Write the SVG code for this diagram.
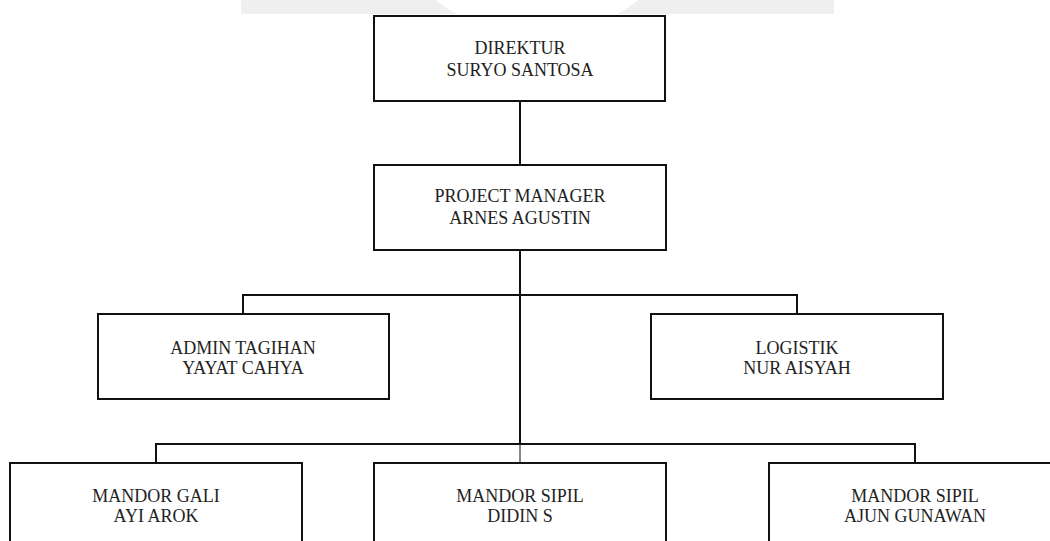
<svg xmlns="http://www.w3.org/2000/svg" width="1050" height="541" viewBox="0 0 1050 541">
<style>
  .box { fill: #ffffff; stroke: #111111; stroke-width: 2; }
  .lbl { font-family: "Liberation Serif", "Times New Roman", serif; font-size: 18px; fill: #222222; text-anchor: middle; }
  .con { stroke: #111111; stroke-width: 2; fill: none; }
  .con-light { stroke: #888888; stroke-width: 2; fill: none; }
</style>
<rect width="1050" height="541" fill="#ffffff"/>
<g id="watermark">
  <rect x="241" y="0" width="593" height="14" fill="#efefef"/>
  <circle cx="537" cy="-124" r="160" fill="#ffffff"/>
</g>
<g id="connectors">
  <line class="con" x1="520" y1="101" x2="520" y2="165"/>
  <line class="con" x1="520" y1="250" x2="520" y2="444"/>
  <line class="con-light" x1="520" y1="444" x2="520" y2="463"/>
  <polyline class="con" points="243,314 243,295 797,295 797,314"/>
  <polyline class="con" points="156,463 156,444 915,444 915,463"/>
</g>
<g id="direktur">
  <rect class="box" x="374" y="16" width="291" height="85"/>
  <text class="lbl" x="520" y="54">DIREKTUR</text>
  <text class="lbl" x="520" y="76">SURYO SANTOSA</text>
</g>
<g id="project-manager">
  <rect class="box" x="374" y="165" width="292" height="85"/>
  <text class="lbl" x="520" y="202">PROJECT MANAGER</text>
  <text class="lbl" x="520" y="224">ARNES AGUSTIN</text>
</g>
<g id="admin-tagihan">
  <rect class="box" x="98" y="314" width="291" height="85"/>
  <text class="lbl" x="243" y="354">ADMIN TAGIHAN</text>
  <text class="lbl" x="243" y="374">YAYAT CAHYA</text>
</g>
<g id="logistik">
  <rect class="box" x="651" y="314" width="292" height="85"/>
  <text class="lbl" x="797" y="354">LOGISTIK</text>
  <text class="lbl" x="797" y="374">NUR AISYAH</text>
</g>
<g id="mandor-gali">
  <rect class="box" x="10" y="463" width="292" height="90"/>
  <text class="lbl" x="156" y="502">MANDOR GALI</text>
  <text class="lbl" x="156" y="522">AYI AROK</text>
</g>
<g id="mandor-sipil-didin">
  <rect class="box" x="374" y="463" width="292" height="90"/>
  <text class="lbl" x="520" y="502">MANDOR SIPIL</text>
  <text class="lbl" x="520" y="522">DIDIN S</text>
</g>
<g id="mandor-sipil-ajun">
  <rect class="box" x="769" y="463" width="292" height="90"/>
  <text class="lbl" x="915" y="502">MANDOR SIPIL</text>
  <text class="lbl" x="915" y="522">AJUN GUNAWAN</text>
</g>
</svg>
